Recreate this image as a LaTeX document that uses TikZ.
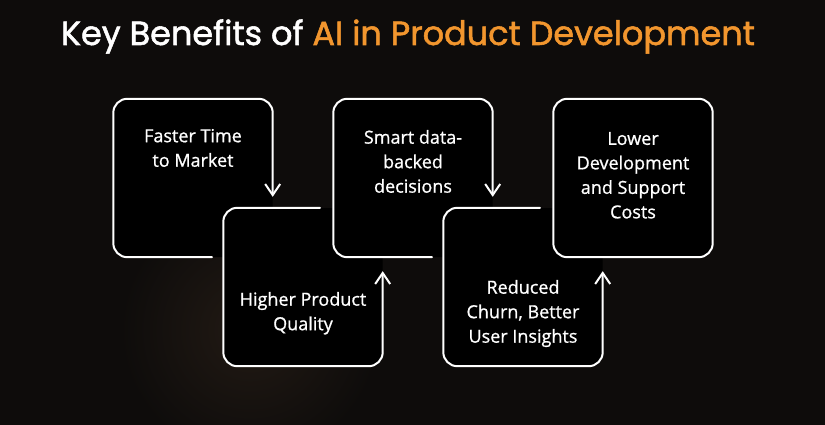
\documentclass[tikz,border=0pt]{standalone}
\usepackage{fontspec}
\setmainfont{Poppins}
\newfontfamily\titlefont{Poppins}[FakeBold=1.6]
\newfontfamily\cardfont{Open Sans}[FakeBold=0.9]
\usetikzlibrary{arrows.meta,positioning}
\definecolor{bgdark}{HTML}{0E0C0B}
\definecolor{glow}{HTML}{221A14}
\definecolor{aiorange}{HTML}{F2962E}

\begin{document}
\begin{tikzpicture}[x=1pt,y=-1pt,
  card/.style={minimum width=159pt,minimum height=158pt,inner sep=0pt,fill=black,rounded corners=14pt},
  sketch/.style={draw=white,line width=2pt,rounded corners=14pt,line cap=round,line join=round},
  tip/.style={-{Straight Barb[length=11pt,width=15pt]}},
  cardtext/.style={text=white,inner sep=0pt,align=center,font=\cardfont\fontsize{18}{24.5}\selectfont}]
% draw background
\fill[bgdark] (0,0) rectangle (825,425);
\useasboundingbox (0,0) rectangle (825,425);
\shade[inner color=glow,outer color=bgdark] (250,330) circle (130);
% draw title
\node[anchor=base,text=white,font=\titlefont\fontsize{33.5}{38}\selectfont] (title) at (408,45)
  {Key Benefits of \textcolor{aiorange}{AI in Product Development}};
% draw cards
\node[card] (faster) at (193,178) {};
\node[card] (quality) at (303,287) {};
\node[card] (smart) at (413,178) {};
\node[card] (churn) at (523,287) {};
\node[card] (costs) at (633,178) {};
% draw card outlines, down arrows
\foreach \a/\b in {faster/quality,smart/churn}{
  \draw[sketch,tip] ([xshift=19pt]\a.south) -- (\a.south west) -- (\a.north west)
    -- (\a.north east) -- ([yshift=11pt]\b.north -| \a.east);
}
% up arrows
\foreach \a/\b in {quality/smart,churn/costs}{
  \draw[sketch,tip] ([xshift=17pt]\a.north) -- (\a.north west) -- (\a.south west)
    -- (\a.south east) -- ([yshift=-14pt]\b.south -| \a.east);
}
\draw[sketch] (costs.south west) rectangle (costs.north east);
% draw card texts
\node[cardtext,below=30pt of faster.north] (fastertext) {Faster Time\\to Market};
\node[cardtext,below=84pt of quality.north] (qualitytext) {Higher Product\\Quality};
\node[cardtext,below=31pt of smart.north] (smarttext) {Smart data-\\backed\\decisions};
\node[cardtext,below=72pt of churn.north] (churntext) {Reduced\\Churn, Better\\User Insights};
\node[cardtext,below=33pt of costs.north] (coststext) {Lower\\Development\\and Support\\Costs};
\end{tikzpicture}
\end{document}
